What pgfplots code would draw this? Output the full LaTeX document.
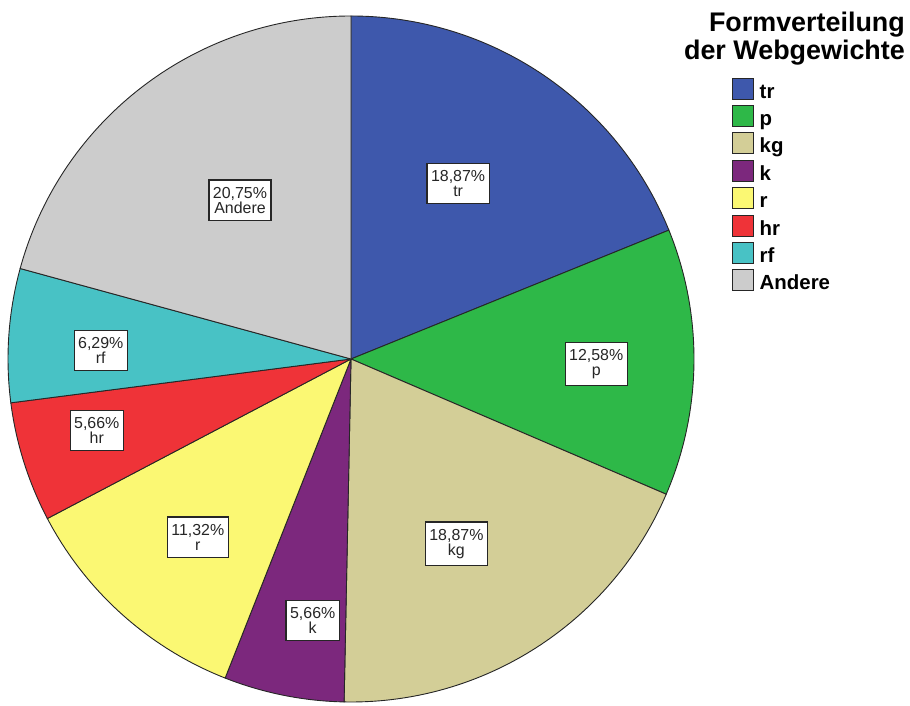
\documentclass[border=0pt]{standalone}
\usepackage{pgfplots}
\usepackage{pgfplotstable}
\pgfplotsset{compat=1.18}
\usepackage{fontspec}
\setmainfont{Liberation Sans}

\definecolor{ctr}{HTML}{3E58AC}
\definecolor{cp}{HTML}{2EB848}
\definecolor{ckg}{HTML}{D3CE97}
\definecolor{ck}{HTML}{7C287D}
\definecolor{cr}{HTML}{FBF873}
\definecolor{chr}{HTML}{EF3338}
\definecolor{crf}{HTML}{48C2C5}
\definecolor{cand}{HTML}{CCCCCC}

% pct = share in percent, lr = label radius (fraction), dang = label angle shift
\pgfplotstableread{
name   pct    lr     dang  col
tr     18.87  0.60    2.6  ctr
p      12.58  0.715  -0.6  cp
kg     18.87  0.62   -3.1  ckg
k      5.66   0.77    3.0  ck
r      11.32  0.685   1.2  cr
hr     5.66   0.77   -1.8  chr
rf     6.29   0.73    2.0  crf
Andere 20.75  0.565  -2.4  cand
}\piedata

\begin{document}
\begin{tikzpicture}
\begin{axis}[
    x=1bp, y=1bp,
    xmin=0, xmax=910, ymin=0, ymax=702,
    hide axis, clip=false,
    legend style={draw=none, fill=none, inner sep=0pt,
        at={(axis cs:732,624.5)}, anchor=north west,
        font=\fontsize{20.5}{20.5}\selectfont\bfseries,
        row sep=0.9bp,
        nodes={inner sep=0pt, text height=20bp, text depth=6bp},
        /tikz/every odd column/.append style={column sep=6bp}},
    legend cell align=left,
    legend image code/.code={\draw[#1, line width=1bp] (0bp,-8bp) rectangle (20.5bp,13bp);},
]
\path (axis cs:0,0) rectangle (axis cs:910,702);
% wedges, clockwise from 12 o'clock
\def\cum{90}
\pgfplotsforeachungrouped \i in {0,...,7}{
    \pgfplotstablegetelem{\i}{pct}\of\piedata \let\pct\pgfplotsretval
    \pgfplotstablegetelem{\i}{col}\of\piedata \let\col\pgfplotsretval
    \pgfmathsetmacro\endang{\cum-3.6*\pct}
    \edef\temp{\noexpand\filldraw[fill=\col, draw=black!85, line width=0.9bp]
        (axis cs:351,343) -- ++(\cum:343bp)
        arc[start angle=\cum, end angle=\endang, radius=343bp] -- cycle;}
    \temp
    \global\let\cum\endang
}
% labels
\def\cum{90}
\pgfplotsforeachungrouped \i in {0,...,7}{
    \pgfplotstablegetelem{\i}{pct}\of\piedata \let\pct\pgfplotsretval
    \pgfplotstablegetelem{\i}{lr}\of\piedata \let\lr\pgfplotsretval
    \pgfplotstablegetelem{\i}{dang}\of\piedata \let\dang\pgfplotsretval
    \pgfplotstablegetelem{\i}{name}\of\piedata \let\nm\pgfplotsretval
    \pgfmathsetmacro\endang{\cum-3.6*\pct}
    \pgfmathsetmacro\lang{(\cum+\endang)/2+\dang}
    \edef\temp{\noexpand\node[draw=black!85, line width=1.2bp, fill=white,
        align=center, inner xsep=4bp, inner ysep=7bp, text=black!85,
        font=\noexpand\fontsize{16}{15}\noexpand\selectfont]
        at ([shift={(\lang:\lr*343bp)}]axis cs:351,343)
        {\noexpand\pgfmathprintnumber[fixed, precision=2, fixed zerofill, use comma, assume math mode=true]{\pct}\noexpand\%\noexpand\\\nm};}
    \temp
    \global\let\cum\endang
}
\addlegendimage{fill=ctr, draw=black!85}\addlegendentry{tr}
\addlegendimage{fill=cp, draw=black!85}\addlegendentry{p}
\addlegendimage{fill=ckg, draw=black!85}\addlegendentry{kg}
\addlegendimage{fill=ck, draw=black!85}\addlegendentry{k}
\addlegendimage{fill=cr, draw=black!85}\addlegendentry{r}
\addlegendimage{fill=chr, draw=black!85}\addlegendentry{hr}
\addlegendimage{fill=crf, draw=black!85}\addlegendentry{rf}
\addlegendimage{fill=cand, draw=black!85}\addlegendentry{Andere}
\node[anchor=north east, align=right, inner sep=0pt,
    font=\fontsize{27}{27.5}\selectfont\bfseries]
    at (axis cs:905,690) {Formverteilung\\der Webgewichte};
\end{axis}
\end{tikzpicture}
\end{document}
